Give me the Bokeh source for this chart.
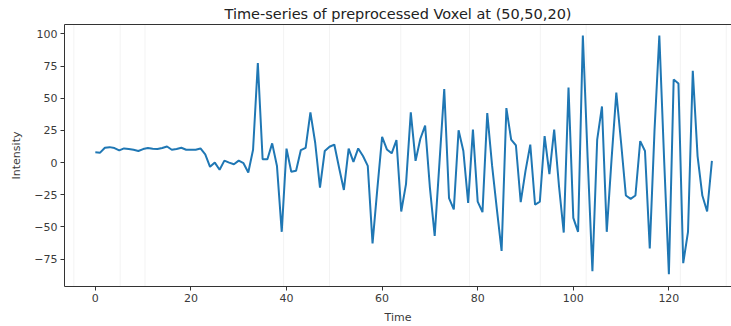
from bokeh.plotting import figure
from bokeh.models import FixedTicker, ColumnDataSource, Span, LinearAxis
from bokeh.embed import file_html
from bokeh.resources import INLINE

time = list(range(130))
intensity = [
    8, 7.7, 11.5, 12, 11.3, 9.5, 11, 10.5, 10, 9,
    10.5, 11.3, 10.8, 10.5, 11.3, 12.5, 10, 10.5, 11.5, 10,
    10, 10, 11, 6.4, -3.3, 0, -5.6, 1.5, 0, -1.3,
    1.5, -0.5, -7.7, 10, 77.4, 2.6, 2.6, 14.9, -2.6, -53.8,
    10.8, -7.2, -6.4, 9.7, 11.5, 39, 15.4, -19.5, 9, 12.3,
    14, -4, -21.3, 10.8, 0.5, 11, 5.1, -2.6, -62.8, -20.5,
    20, 10.2, 7.2, 17.4, -38, -16.7, 39, 1.3, 18.5, 28.7,
    -19.5, -57, 0, 57.2, -27.7, -36.4, 25.1, 9, -31.3, 25.6,
    -30.3, -38.5, 38.4, -2, -36, -68.7, 42.3, 17.9, 13.3, -30.8,
    -6.4, 14, -32.8, -30.3, 20.5, -9, 25.6, -18, -54.4, 58.4,
    -43, -53.8, 98.7, 3.8, -84.4, 17.9, 43.6, -53.8, 2.3, 54.4,
    15.4, -25.6, -28.2, -25.6, 16.7, 9, -66.7, 25.6, 98.7, 2.6,
    -86.7, 64.6, 61.5, -78.2, -53.8, 71.3, 5.1, -25.6, -38, 1.3,
]
x_ticks = [0, 20, 40, 60, 80, 100, 120]
y_ticks = [-75, -50, -25, 0, 25, 50, 75, 100]

source = ColumnDataSource(data=dict(time=time, intensity=intensity))

p = figure(width=731, height=326, output_backend="svg", toolbar_location=None,
           x_range=(-6.45, 133.1), y_range=(-96.3, 107.3),
           title="Time-series of preprocessed Voxel at (50,50,20)",
           min_border_left=64, min_border_right=0, min_border_top=24, min_border_bottom=38)

font = "DejaVu Sans"
p.title.text_font = font
p.title.text_font_size = "14.5px"
p.title.text_font_style = "normal"
p.title.align = "center"
p.title.offset = 6
p.title.text_color = "#222222"
p.title.standoff = 5

p.xgrid.visible = False
p.ygrid.visible = False

for xs in [-4.5, 5.2, 10.4, 39.4, 49, 63.9, 78.3, 93.1, 102.7, 122.4, 132]:
    p.add_layout(Span(location=xs, dimension="height", line_color="#f3f3f3",
                      line_width=1, level="underlay"))

p.line("time", "intensity", source=source, line_color="#1f77b4", line_width=2)

p.outline_line_color = None

bottom_axis = p.below[0]
left_axis = p.left[0]

for ax in (bottom_axis, left_axis):
    ax.axis_line_color = "#333333"
    ax.major_tick_line_color = "#333333"
    ax.major_tick_out = 4
    ax.major_tick_in = 0
    ax.minor_tick_line_color = None
    ax.major_label_text_font = font
    ax.major_label_text_font_size = "11px"
    ax.major_label_text_color = "#3a3a3a"
    ax.axis_label_text_font = font
    ax.axis_label_text_font_size = "11px"
    ax.axis_label_text_font_style = "normal"
    ax.axis_label_text_color = "#3a3a3a"
    ax.major_label_standoff = 3

bottom_axis.ticker = FixedTicker(ticks=x_ticks)
left_axis.ticker = FixedTicker(ticks=y_ticks)
bottom_axis.axis_label = "Time"
left_axis.axis_label = "Intensity"
bottom_axis.axis_label_standoff = 6
left_axis.axis_label_standoff = 8

top_axis = LinearAxis(ticker=FixedTicker(ticks=[]), major_label_text_font_size="0px",
                      major_tick_out=0, major_tick_in=0, minor_tick_line_color=None,
                      axis_line_color="#333333", axis_line_width=1)
p.add_layout(top_axis, "above")

open("out.html", "w").write(file_html(p, INLINE))
